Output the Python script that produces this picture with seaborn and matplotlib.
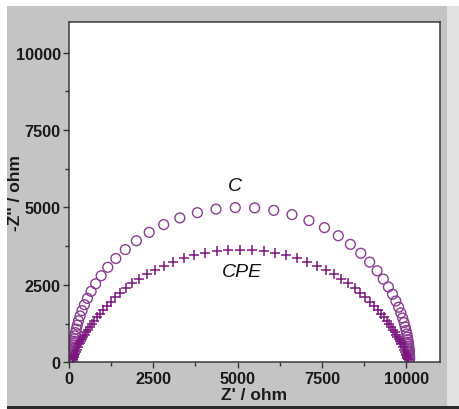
import matplotlib
matplotlib.use('Agg')
import matplotlib.pyplot as plt
from matplotlib.patches import Rectangle
from matplotlib.ticker import MultipleLocator
import pandas as pd
import seaborn as sns

# --- data (ohm) ---
c_zr = [96, 97, 98, 99, 102, 106, 108, 112, 116, 121, 128, 136, 147, 158, 174,
        192, 216, 246, 282, 329, 386, 458, 546, 655, 790, 953, 1150, 1388, 1669,
        1998, 2378, 2808, 3287, 3807, 4359,
        4930, 5505, 6071, 6611, 7114, 7574, 7984, 8343, 8652, 8914, 9135, 9318,
        9469, 9592, 9692, 9774, 9839, 9892, 9934, 9968, 9994, 10016, 10034,
        10047, 10058, 10066, 10073, 10078, 10083, 10087, 10089, 10093, 10095,
        10097, 10098, 10099]
c_zi = [97, 122, 153, 193, 243, 306, 343, 384, 431, 483, 542, 608, 681, 763, 855,
        957, 1071, 1199, 1340, 1496, 1669, 1859, 2066, 2292, 2535, 2795, 3069,
        3352, 3640, 3925, 4197, 4447, 4663, 4833, 4948,
        4997, 4986, 4907, 4769, 4579, 4349, 4087, 3809, 3522, 3235, 2955, 2687,
        2434, 2198, 1979, 1779, 1596, 1430, 1281, 1145, 1023, 914, 817, 729,
        650, 580, 517, 461, 411, 367, 327, 260, 207, 164, 130, 103]

cpe_zr = [111, 119, 127, 137, 148, 163, 181, 202, 229, 263, 305, 330, 357, 388,
          423, 462, 505, 554, 609, 670, 740, 817, 905, 1003, 1112, 1235, 1372,
          1524, 1693, 1879, 2084, 2308, 2552, 2815, 3097, 3397, 3712, 4042, 4382,
          4729, 5080, 5431, 5778, 6118, 6448, 6763, 7063, 7345, 7608, 7852, 8076,
          8281, 8467, 8636, 8788, 8925, 9048, 9157, 9255, 9343, 9420, 9490, 9551,
          9606, 9655, 9698, 9737, 9772, 9803, 9830, 9855, 9897, 9931, 9958, 9979,
          9997, 10012, 10023, 10033, 10041, 10049]
cpe_zi = [95, 113, 136, 163, 196, 235, 282, 337, 404, 482, 575, 628, 685, 747,
          815, 887, 966, 1050, 1141, 1238, 1342, 1453, 1570, 1694, 1825, 1961,
          2102, 2248, 2396, 2546, 2696, 2843, 2985, 3120, 3245, 3356, 3452, 3529,
          3586, 3621, 3633, 3621, 3586, 3529, 3452, 3356, 3245, 3120, 2985, 2843,
          2696, 2546, 2396, 2248, 2102, 1961, 1825, 1694, 1570, 1453, 1342, 1238,
          1141, 1050, 966, 887, 815, 747, 685, 628, 575, 482, 404, 337, 282, 235,
          196, 163, 136, 113, 95]

AX_TICKS = [0, 2500, 5000, 7500, 10000]

sns.set_style('ticks')
plt.rcParams['font.family'] = ['Liberation Sans', 'DejaVu Sans']

df_c = pd.DataFrame({'zr': c_zr, 'zi': c_zi})
df_cpe = pd.DataFrame({'zr': cpe_zr, 'zi': cpe_zi})

fig = plt.figure(figsize=(4.6, 4.1), dpi=100, facecolor='white')

# gray frame behind the plot
for (x0, y0, w, h, col) in [(7, 3, 440, 400, '#c4c4c4'),
                            (447, 3, 13, 400, '#e2e2e2'),
                            (7, 0, 453, 3, '#2a2a2a')]:
    fig.patches.append(Rectangle((x0 / 460, y0 / 410), w / 460, h / 410,
                                 transform=fig.transFigure, facecolor=col,
                                 edgecolor='none', zorder=-10))

ax = fig.add_axes([69 / 460, (410 - 363.3) / 410, 371 / 460, 340.6 / 410])
ax.set_facecolor('white')

sns.scatterplot(data=df_c, x='zr', y='zi', ax=ax, marker='o', s=50,
                facecolors='none', edgecolor='#8a3d92', linewidth=1.0)
sns.scatterplot(data=df_cpe, x='zr', y='zi', ax=ax, marker='+', s=60,
                color='#7e167f', linewidth=1.1)

ax.set_xlim(0, 11000)
ax.set_ylim(0, 11000)
ax.set_xticks(AX_TICKS)
ax.set_yticks(AX_TICKS)
ax.xaxis.set_minor_locator(MultipleLocator(1250))
ax.yaxis.set_minor_locator(MultipleLocator(1250))
ax.tick_params(which='major', length=4, width=1, color='#333333',
               labelsize=11.7, labelcolor='#1a1a1a', pad=2)
ax.tick_params(which='minor', length=3, width=1, color='#333333')
for lab in ax.get_xticklabels() + ax.get_yticklabels():
    lab.set_fontweight('bold')

for side in ['left', 'right', 'top', 'bottom']:
    ax.spines[side].set_visible(True)
    ax.spines[side].set_color('#3a3a3a')
    ax.spines[side].set_linewidth(1.1)

ax.set_xlabel("Z' / ohm", fontsize=12.5, fontweight='bold', color='#1a1a1a',
              labelpad=1)
ax.set_ylabel("-Z'' / ohm", fontsize=12.5, fontweight='bold', color='#1a1a1a')
ax.yaxis.set_label_coords(-0.145, 0.5)
ax.yaxis.label.set_va('center')

ax.text(4930, 5715, 'C', fontsize=14, style='italic', ha='center',
        va='center', color='#111111')
ax.text(5130, 2920, 'CPE', fontsize=14, style='italic', ha='center',
        va='center', color='#111111')

plt.savefig('out.png', dpi=100, facecolor=fig.get_facecolor())
